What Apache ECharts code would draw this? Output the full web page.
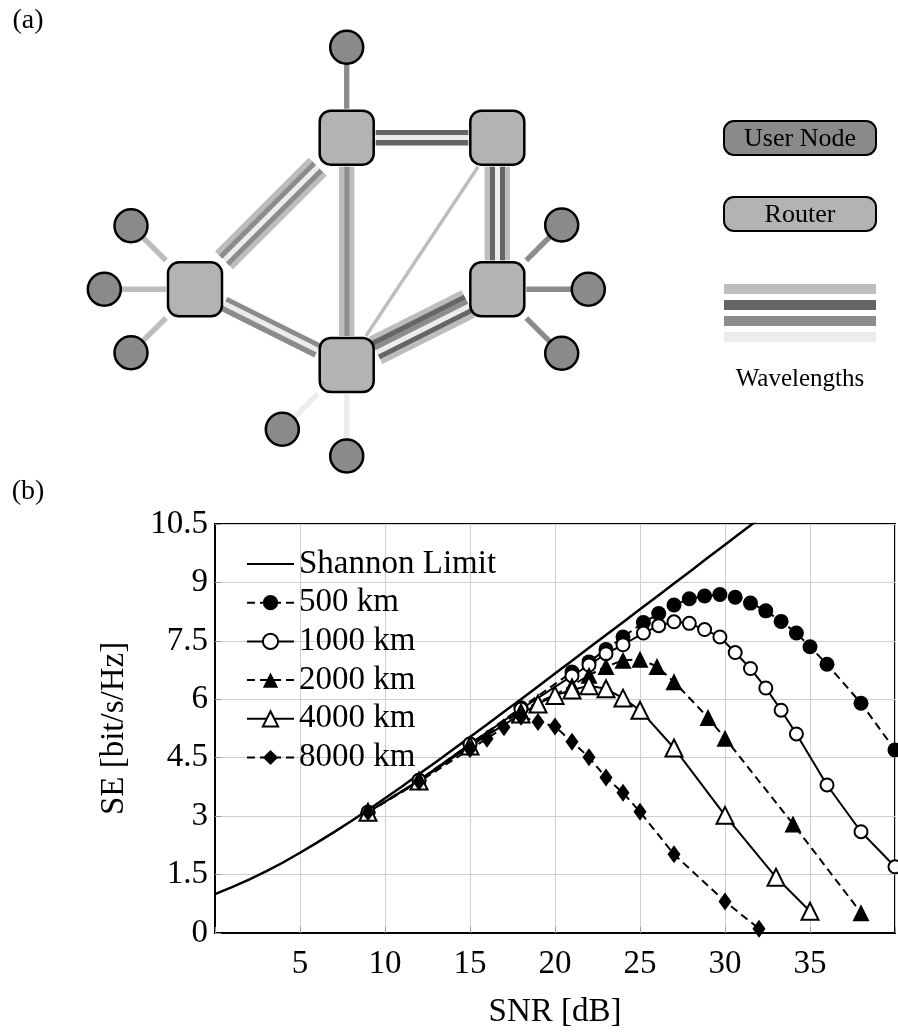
<!DOCTYPE html>
<html>
<head>
<meta charset="utf-8">
<script src="https://cdn.jsdelivr.net/npm/echarts@6.0.0/dist/echarts.min.js"></script>
<style>
  body { margin: 0; background: #fff; }
  #chart { width: 898px; height: 1032px; }
</style>
</head>
<body>
<div id="chart"></div>
<script>
// ---- panel (b) data ----
const shannonSnr = [0, 1, 2, 3, 4, 5, 6, 7, 8, 9, 10, 11, 12, 13, 14, 15, 16, 17, 18, 19, 20, 21, 22, 23, 24, 25, 26, 27, 28, 29, 30, 31, 32]
const shannonSe = [1.0, 1.18, 1.37, 1.58, 1.81, 2.06, 2.32, 2.59, 2.87, 3.16, 3.46, 3.76, 4.08, 4.39, 4.71, 5.03, 5.35, 5.68, 6.0, 6.33, 6.66, 6.99, 7.32, 7.65, 7.98, 8.31, 8.64, 8.97, 9.3, 9.64, 9.97, 10.3, 10.63]

const snr500 = [9, 12, 15, 18, 21, 22, 23, 24, 25.2, 26.1, 27, 27.9, 28.8, 29.7, 30.6, 31.5, 32.4, 33.3, 34.2, 35, 36, 38, 40]
const se500 = [3.1, 3.92, 4.85, 5.78, 6.7, 6.96, 7.28, 7.6, 7.97, 8.2, 8.42, 8.58, 8.65, 8.69, 8.62, 8.47, 8.27, 8.0, 7.7, 7.35, 6.9, 5.9, 4.7]

const snr1000 = [9, 12, 15, 18, 21, 22, 23, 24, 25.2, 26.1, 27, 27.9, 28.8, 29.7, 30.6, 31.5, 32.4, 33.3, 34.2, 36, 38, 40]
const se1000 = [3.1, 3.92, 4.85, 5.75, 6.6, 6.88, 7.17, 7.4, 7.7, 7.89, 7.99, 7.95, 7.79, 7.6, 7.2, 6.79, 6.29, 5.72, 5.11, 3.8, 2.6, 1.7]

const snr2000 = [9, 12, 15, 18, 19, 20, 21, 22, 23, 24, 25, 26, 27, 29, 30, 34, 38]
const se2000 = [3.1, 3.9, 4.8, 5.7, 5.92, 6.12, 6.35, 6.62, 6.84, 7.0, 7.03, 6.84, 6.45, 5.53, 5.0, 2.8, 0.52]

const snr4000 = [9, 12, 15, 18, 19, 20, 21, 22, 23, 24, 25, 27, 30, 33, 35]
const se4000 = [3.1, 3.9, 4.8, 5.62, 5.88, 6.1, 6.24, 6.35, 6.27, 6.03, 5.72, 4.75, 3.02, 1.43, 0.56]

const snr8000 = [9, 12, 15, 16, 17, 18, 19, 20, 21, 22, 23, 24, 25, 27, 30, 32]
const se8000 = [3.1, 3.88, 4.72, 4.99, 5.28, 5.55, 5.42, 5.3, 4.91, 4.51, 3.99, 3.6, 3.11, 2.02, 0.81, 0.11]

const seriesNames = ['Shannon Limit', '500 km', '1000 km', '2000 km', '4000 km', '8000 km']

// ---- panel (a) data (diagram units) ----
const routerX = [346.7, 497.3, 195, 346.7, 497.3]
const routerY = [137.7, 137.7, 289.3, 365, 289.3]
const userX = [346.7, 131, 104.3, 131, 282.3, 346.7, 561.7, 588.3, 561.7]
const userY = [47.3, 225.7, 289.3, 352.7, 429.3, 456, 225, 289.3, 353.3]
const userHub = [0, 2, 2, 2, 3, 3, 4, 4, 4]
const userWave = [2, 0, 0, 0, 3, 3, 2, 2, 2]
const linkFrom = [0, 0, 0, 2, 3, 1, 3]
const linkTo = [1, 3, 2, 3, 1, 4, 4]
const linkWaves = [[1, 3, 1], [0, 2, 0], [0, 2, 3, 2, 0], [2, 3, 2], [0], [0, 1, 3, 1, 0], [0, 1, 2, 3, 1, 0]]
const waveColors = ['#bdbdbd', '#656565', '#8c8c8c', '#ececec']
const waveNames = ['User Node', 'Router', 'Wavelengths']

const serif = 'Liberation Serif'
const zip = (a, b) => a.map((v, i) => [v, b[i]])

const chart = echarts.init(document.getElementById('chart'))

// trimmed stripes between two pixel points
function stripes(p1, p2, waves, w, trimA, trimB) {
  const dx = p2[0] - p1[0], dy = p2[1] - p1[1]
  const len = Math.sqrt(dx * dx + dy * dy)
  const ux = dx / len, uy = dy / len
  const nx = -uy, ny = ux
  const m = Math.max(Math.abs(ux), Math.abs(uy))
  const ta = trimA / m, tb = trimB / m
  const a = [p1[0] + ux * ta, p1[1] + uy * ta]
  const b = [p2[0] - ux * tb, p2[1] - uy * tb]
  return waves.map((c, i) => {
    const off = (i - (waves.length - 1) / 2) * w
    return {
      type: 'line',
      shape: { x1: a[0] + nx * off, y1: a[1] + ny * off, x2: b[0] + nx * off, y2: b[1] + ny * off },
      style: { stroke: waveColors[c], lineWidth: w + 0.4, lineCap: 'butt' }
    }
  })
}

const label = (text, x, y, size) => ({
  type: 'text', x: x, y: y,
  style: { text: text, fontFamily: serif, fontSize: size, fill: '#000', align: 'center', verticalAlign: 'middle' }
})

const lineSeries = (name, x, y, symbol, size, open, dashed) => ({
  name: name,
  type: 'line',
  data: zip(x, y),
  symbol: symbol,
  symbolSize: size,
  showSymbol: symbol !== 'none',
  color: '#000',
  lineStyle: { color: '#000', width: 2, type: dashed ? [8, 5] : 'solid' },
  itemStyle: open ? { color: '#fff', borderColor: '#000', borderWidth: 2 } : { color: '#000' },
  emphasis: { disabled: true },
  silent: true
})

const option = {
  animation: false,
  backgroundColor: '#fff',
  grid: [
    { left: 215, right: 2, top: 524, bottom: 99, show: true, borderColor: '#000', borderWidth: 2 },
    { left: 0, top: 0, width: 898, height: 480 }
  ],
  xAxis: [
    {
      type: 'value', min: 0, max: 40, interval: 5, gridIndex: 0,
      name: 'SNR [dB]', nameLocation: 'middle', nameGap: 63,
      nameTextStyle: { fontFamily: serif, fontSize: 33, color: '#000' },
      axisLine: { lineStyle: { color: '#000', width: 2 } },
      axisTick: { inside: true, length: 6, lineStyle: { color: '#999' } },
      axisLabel: {
        fontFamily: serif, fontSize: 33, color: '#000', margin: 15,
        formatter: v => (v === 0 || v === 40) ? '' : String(v)
      },
      splitLine: { lineStyle: { color: '#cfcfcf', width: 1 } }
    },
    { type: 'value', min: 0, max: 898, gridIndex: 1, show: false }
  ],
  yAxis: [
    {
      type: 'value', min: 0, max: 10.5, interval: 1.5, gridIndex: 0,
      name: 'SE [bit/s/Hz]', nameLocation: 'middle', nameGap: 84,
      nameTextStyle: { fontFamily: serif, fontSize: 33, color: '#000' },
      axisLine: { lineStyle: { color: '#000', width: 2 } },
      axisTick: { inside: true, length: 6, lineStyle: { color: '#999' } },
      axisLabel: { fontFamily: serif, fontSize: 33, color: '#000', margin: 7 },
      splitLine: { lineStyle: { color: '#cfcfcf', width: 1 } }
    },
    { type: 'value', min: 0, max: 480, inverse: true, gridIndex: 1, show: false }
  ],
  legend: {
    data: seriesNames,
    orient: 'vertical',
    left: 246,
    top: 547.5,
    padding: 0,
    itemWidth: 47,
    itemHeight: 19,
    itemGap: 5.7,
    selectedMode: false,
    textStyle: { fontFamily: serif, fontSize: 33, color: '#000' }
  },
  graphic: [
    label('(a)', 28, 21, 28),
    label('(b)', 28, 492, 28),
    { type: 'rect', shape: { x: 724, y: 121, width: 152, height: 34, r: 10 }, style: { fill: '#8a8a8a', stroke: '#000', lineWidth: 2 } },
    label(waveNames[0], 800, 139, 26),
    { type: 'rect', shape: { x: 724, y: 197, width: 152, height: 34, r: 10 }, style: { fill: '#b3b3b3', stroke: '#000', lineWidth: 2 } },
    label(waveNames[1], 800, 215, 26),
    { type: 'rect', shape: { x: 724, y: 284, width: 152, height: 10 }, style: { fill: waveColors[0] } },
    { type: 'rect', shape: { x: 724, y: 300, width: 152, height: 10 }, style: { fill: waveColors[1] } },
    { type: 'rect', shape: { x: 724, y: 316, width: 152, height: 10 }, style: { fill: waveColors[2] } },
    { type: 'rect', shape: { x: 724, y: 332, width: 152, height: 10 }, style: { fill: waveColors[3] } },
    label(waveNames[2], 800, 379, 25)
  ],
  series: [
    // panel (a): router-to-router links
    {
      type: 'custom', xAxisIndex: 1, yAxisIndex: 1, silent: true, z: 1,
      data: linkFrom.map((f, k) => [routerX[f], routerY[f], routerX[linkTo[k]], routerY[linkTo[k]]]),
      encode: { x: [0, 2], y: [1, 3] },
      renderItem: function (params, api) {
        const k = params.dataIndex
        const p1 = api.coord([api.value(0), api.value(1)])
        const p2 = api.coord([api.value(2), api.value(3)])
        const w = linkWaves[k].length === 1 ? 3 : 5
        return { type: 'group', children: stripes(p1, p2, linkWaves[k], w, 29, 29) }
      }
    },
    // panel (a): user spokes
    {
      type: 'custom', xAxisIndex: 1, yAxisIndex: 1, silent: true, z: 1,
      data: userX.map((x, k) => [x, userY[k], routerX[userHub[k]], routerY[userHub[k]]]),
      encode: { x: [0, 2], y: [1, 3] },
      renderItem: function (params, api) {
        const k = params.dataIndex
        const p1 = api.coord([api.value(0), api.value(1)])
        const p2 = api.coord([api.value(2), api.value(3)])
        return { type: 'group', children: stripes(p1, p2, [userWave[k]], 5, 0, 29) }
      }
    },
    // panel (a): routers
    {
      type: 'custom', xAxisIndex: 1, yAxisIndex: 1, silent: true, z: 3,
      data: zip(routerX, routerY),
      renderItem: function (params, api) {
        const p = api.coord([api.value(0), api.value(1)])
        return {
          type: 'rect',
          shape: { x: p[0] - 27, y: p[1] - 27, width: 54, height: 54, r: 11 },
          style: { fill: '#b3b3b3', stroke: '#000', lineWidth: 2.5 }
        }
      }
    },
    // panel (a): user nodes
    {
      type: 'scatter', xAxisIndex: 1, yAxisIndex: 1, silent: true, z: 3,
      data: zip(userX, userY),
      symbol: 'circle', symbolSize: 33,
      itemStyle: { color: '#8a8a8a', borderColor: '#000', borderWidth: 2.5, opacity: 1 }
    },
    // panel (b)
    Object.assign(lineSeries(seriesNames[0], shannonSnr, shannonSe, 'none', 0, false, false), {
      lineStyle: { color: '#000', width: 2.5 },
      itemStyle: { color: '#000', opacity: 0 }
    }),
    lineSeries(seriesNames[1], snr500, se500, 'circle', 15, false, true),
    lineSeries(seriesNames[2], snr1000, se1000, 'circle', 13, true, false),
    lineSeries(seriesNames[3], snr2000, se2000, 'triangle', 17, false, true),
    lineSeries(seriesNames[4], snr4000, se4000, 'triangle', 17, true, false),
    lineSeries(seriesNames[5], snr8000, se8000, 'diamond', [13, 18], false, true)
  ]
}

chart.setOption(option)
</script>
</body>
</html>
